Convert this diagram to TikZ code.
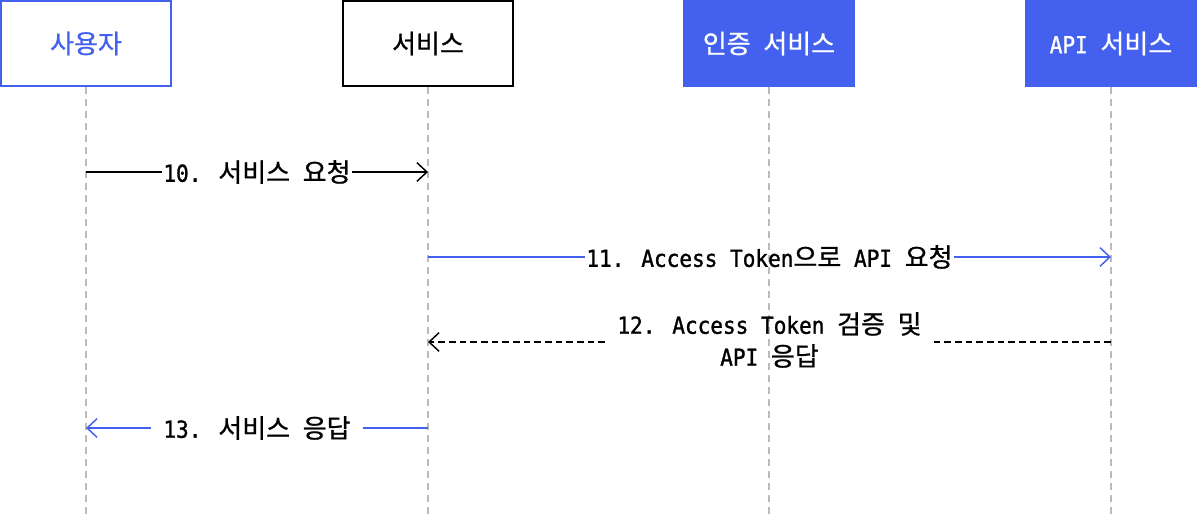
\documentclass[tikz,border=0pt]{standalone}
\usepackage{fontspec}
\setmainfont{DejaVu Sans Mono}[Scale=0.9,FakeStretch=0.9,FakeBold=1.2]
\newfontfamily\kofont{Noto Sans CJK KR}[FakeBold=0.8]
\newcommand\ko[1]{{\kofont #1}}
\usetikzlibrary{arrows.meta,calc}
\definecolor{brandblue}{HTML}{4361EE}
\definecolor{lifegray}{HTML}{BBBBBB}

\begin{document}
\begin{tikzpicture}[x=0.75pt,y=-0.75pt,
    >={Straight Barb[length=7.5pt,width=14pt]},
    actor/.style={draw,line width=1.5pt,minimum width=127.5pt,minimum height=63.75pt,
      inner sep=0pt,font=\fontsize{19.5}{24}\selectfont},
    bluebox/.style={actor,draw=brandblue,fill=brandblue,text=white},
    life/.style={draw=lifegray,line width=1.1pt,dash pattern=on 5pt off 4pt},
    msg/.style={inner ysep=0pt,inner xsep=2pt,font=\fontsize{19.5}{24}\selectfont},
    call/.style={line width=1.1pt}]
  \useasboundingbox (0,0) rectangle (1200,517);

  % participants
  \node[actor,draw=brandblue,text=brandblue] (user) at (86,43.5) {\ko{사용자}};
  \node[actor,draw=black] (svc) at (428,43.5) {\ko{서비스}};
  \node[bluebox] (auth) at (769,43.5) {\ko{인증} \ko{서비스}};
  \node[bluebox] (api) at (1111,43.5) {API \ko{서비스}};

  % lifelines and message anchors
  \foreach \n in {user,svc,auth,api}{
    \coordinate (\n-end) at (\n.south |- 0,517);
    \draw[life] (\n.south) -- (\n-end);
    \foreach \y/\m in {172/a,257/b,342/c,428/d}
      \coordinate (\n-\m) at (\n.south |- 0,\y);
  }

  % 10
  \node[msg,inner xsep=1pt] (m10) at ($(user-a)!0.5!(svc-a)$) {10. \ko{서비스} \ko{요청}};
  \draw[call] (user-a) -- (m10.west);
  \draw[call,->] (m10.east) -- (svc-a);

  % 11
  \node[msg,inner xsep=1pt] (m11) at ($(svc-b)!0.5!(api-b)$) {11. Access Token\ko{으로} API \ko{요청}};
  \draw[call,brandblue] (svc-b) -- (m11.west);
  \draw[call,brandblue,->] (m11.east) -- (api-b);

  % 12
  \node[msg,align=center,inner xsep=9pt] (m12) at ($(svc-c)!0.5!(api-c)+(0,-2)$)
    {12. Access Token \ko{검증} \ko{및}\\API \ko{응답}};
  \draw[call,dash pattern=on 5pt off 3pt] (api-c) -- (m12.east |- api-c);
  \draw[call,dash pattern=on 5pt off 3pt,->] (m12.west |- svc-c) -- (svc-c);

  % 13
  \node[msg,inner xsep=9pt] (m13) at ($(user-d)!0.5!(svc-d)$) {13. \ko{서비스} \ko{응답}};
  \draw[call,brandblue] (svc-d) -- (m13.east);
  \draw[call,brandblue,->] (m13.west) -- (user-d);
\end{tikzpicture}
\end{document}
